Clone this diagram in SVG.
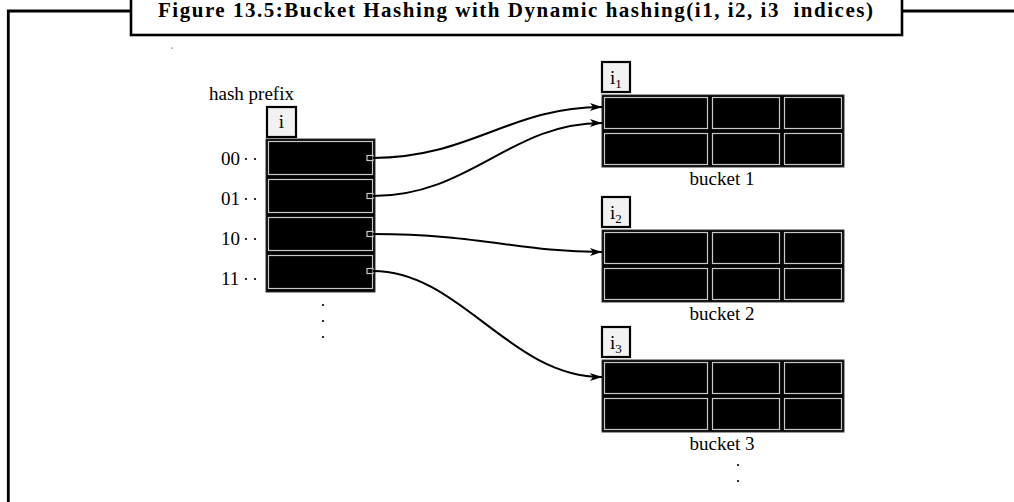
<svg xmlns="http://www.w3.org/2000/svg" width="1014" height="502" viewBox="0 0 1014 502">
<style>
.frame{fill:none;stroke:#000;stroke-width:2.8}
.title{font-family:"Liberation Serif",serif;font-weight:bold;font-size:21px;fill:#000}
.lbl{font-family:"Liberation Serif",serif;font-size:19px;fill:#000}
.sub{font-size:13px}
.idx{fill:#f2f2f2;stroke:#000;stroke-width:2.2}
.outer{fill:#000;stroke:#333;stroke-width:1}
.cell{fill:#000;stroke:#c8c8c8;stroke-width:1.2}
.conn{fill:none;stroke:#000;stroke-width:2}
.dot{fill:#000}
</style>
<defs>
<marker id="ah" viewBox="0 0 12 8" refX="12" refY="4" markerWidth="12" markerHeight="8" orient="auto" markerUnits="userSpaceOnUse">
<path d="M0,0 L12,4 L0,8 L3,4 z" fill="#000"/>
</marker>
<g id="bucketTable">
<rect class="outer" x="0" y="0" width="242" height="72"/>
<rect class="cell" x="2.5" y="2.5" width="103" height="31"/>
<rect class="cell" x="110.5" y="2.5" width="67" height="31"/>
<rect class="cell" x="182.5" y="2.5" width="57" height="31"/>
<rect class="cell" x="2.5" y="38.5" width="103" height="31"/>
<rect class="cell" x="110.5" y="38.5" width="67" height="31"/>
<rect class="cell" x="182.5" y="38.5" width="57" height="31"/>
</g>
</defs>

<g id="frame">
<polyline class="frame" points="8.3,502 8.3,11 131,11"/>
<line class="frame" x1="902" y1="11" x2="1014" y2="11"/>
<rect x="131" y="-3" width="771" height="38" fill="#fff" stroke="#000" stroke-width="2.6"/>
<text class="title" x="158" y="17" textLength="715" lengthAdjust="spacing">Figure 13.5:Bucket Hashing with Dynamic hashing(i1, i2, i3&#160; indices)</text>
<circle class="dot" cx="172" cy="48" r="0.6"/>
</g>

<g id="hash-table">
<text class="lbl" x="209" y="100">hash prefix</text>
<rect class="idx" x="267" y="107" width="29" height="30"/>
<text class="lbl" x="281.5" y="128" text-anchor="middle">i</text>
<rect class="outer" x="266" y="139" width="109" height="153"/>
<rect class="cell" x="268.5" y="141.5" width="104" height="33"/>
<rect class="cell" x="268.5" y="179.5" width="104" height="33"/>
<rect class="cell" x="268.5" y="217.5" width="104" height="33"/>
<rect class="cell" x="268.5" y="255.5" width="104" height="33"/>
<rect class="cell" x="367" y="155.5" width="6" height="5"/>
<rect class="cell" x="367" y="193.5" width="6" height="5"/>
<rect class="cell" x="367" y="231.5" width="6" height="5"/>
<rect class="cell" x="367" y="268.5" width="6" height="5"/>
<text class="lbl" x="221" y="165">00</text>
<text class="lbl" x="221" y="205">01</text>
<text class="lbl" x="221" y="245">10</text>
<text class="lbl" x="221" y="285">11</text>
<g class="dot">
<circle cx="246" cy="159" r="1.1"/><circle cx="255" cy="159" r="1.1"/>
<circle cx="246" cy="199" r="1.1"/><circle cx="255" cy="199" r="1.1"/>
<circle cx="246" cy="239" r="1.1"/><circle cx="255" cy="239" r="1.1"/>
<circle cx="246" cy="279" r="1.1"/><circle cx="255" cy="279" r="1.1"/>
<circle cx="323" cy="305" r="1.1"/><circle cx="323" cy="321" r="1.1"/><circle cx="323" cy="337" r="1.1"/>
</g>
</g>

<g id="bucket1">
<rect class="idx" x="602" y="62" width="28" height="30"/>
<text class="lbl" x="610" y="84">i<tspan class="sub" dy="4">1</tspan></text>
<use href="#bucketTable" x="602" y="95"/>
<text class="lbl" x="722" y="185" text-anchor="middle">bucket 1</text>
</g>

<g id="bucket2">
<rect class="idx" x="602" y="197" width="28" height="30"/>
<text class="lbl" x="610" y="219">i<tspan class="sub" dy="4">2</tspan></text>
<use href="#bucketTable" x="602" y="230"/>
<text class="lbl" x="722" y="320" text-anchor="middle">bucket 2</text>
</g>

<g id="bucket3">
<rect class="idx" x="602" y="327" width="28" height="30"/>
<text class="lbl" x="610" y="349">i<tspan class="sub" dy="4">3</tspan></text>
<use href="#bucketTable" x="602" y="360"/>
<text class="lbl" x="722" y="450" text-anchor="middle">bucket 3</text>
<circle class="dot" cx="738" cy="465" r="1.1"/>
<circle class="dot" cx="738" cy="481" r="1.1"/>
</g>

<g id="connectors">
<path class="conn" marker-end="url(#ah)" d="M373,158 C470,158 510,107 602,107"/>
<path class="conn" marker-end="url(#ah)" d="M373,196 C470,196 510,123 602,123"/>
<path class="conn" marker-end="url(#ah)" d="M373,234 C480,234 520,252 602,252"/>
<path class="conn" marker-end="url(#ah)" d="M373,271 C460,271 510,377 602,377"/>
</g>
</svg>
